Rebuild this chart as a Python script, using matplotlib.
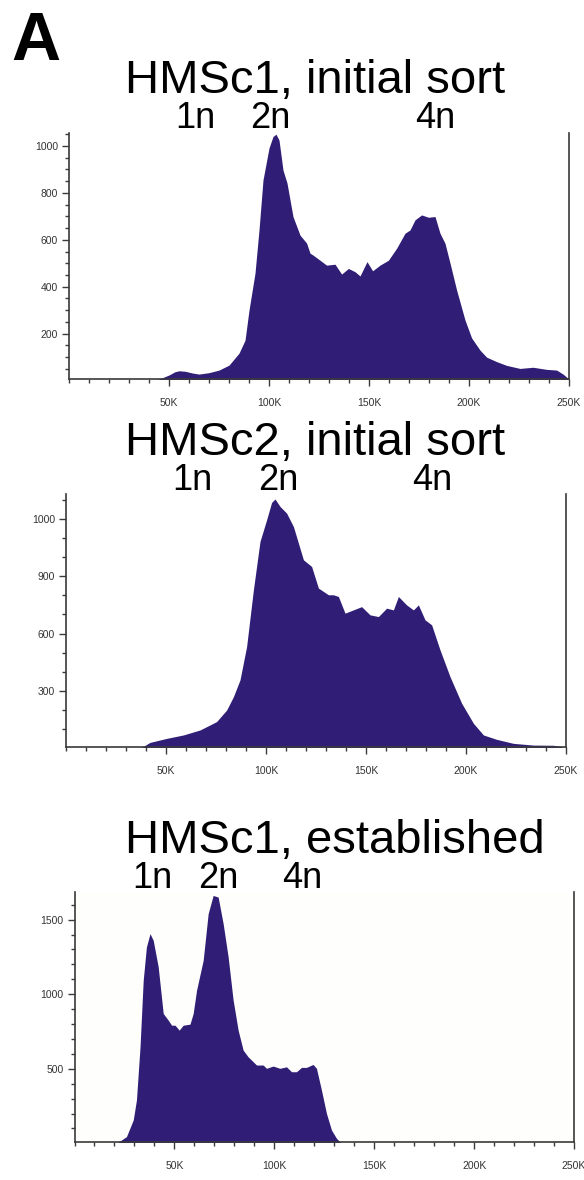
import numpy as np
import matplotlib
matplotlib.use('Agg')
import matplotlib.pyplot as plt
from matplotlib.ticker import MultipleLocator, FixedLocator

plt.rcParams['font.family'] = ['Liberation Sans', 'DejaVu Sans']

# --- data (DNA content in K, cell count) ---
titles = ['HMSc1, initial sort', 'HMSc2, initial sort', 'HMSc1, established']

hmsc1_init_x = [42, 46, 50, 53, 55, 58, 62, 65, 70, 75, 80, 85, 88, 90, 93, 95, 97, 100, 102, 103.5,
                105, 107, 109, 112, 115.5, 118.8, 120.5, 122, 125.5, 128.8, 133, 136.3, 139.7, 143,
                145.5, 149, 151.8, 155.5, 159.7, 163.8, 168, 170.5, 173, 176.3, 179.7, 183, 185.5,
                188, 190.5, 193.8, 198, 201.3, 205.5, 208.8, 213.8, 218.8, 225.5, 232, 238.8,
                243.8, 247, 249.5, 250]
hmsc1_init_y = [0, 10, 24, 38, 42, 40, 32, 28, 34, 45, 66, 117, 172, 300, 458, 642, 855, 991, 1040, 1050,
                1025, 897, 842, 699, 620, 586, 543, 535, 513, 492, 496, 454, 478, 464,
                446, 507, 468, 492, 513, 564, 628, 642, 685, 706, 696, 699, 628,
                585, 501, 386, 258, 182, 130, 100, 81, 65, 52, 57, 48,
                45, 28, 10, 0]

hmsc2_init_x = [37, 42, 50.3, 58.7, 67, 71, 75.3, 80.3, 83.7, 87, 90.3, 93.7, 97, 100.3, 102.8, 104.5,
                107, 110.3, 113.7, 118.7, 122.8, 126.2, 131.2, 133.7, 136.2, 139.5, 143.7, 147.8,
                152, 156.2, 160.3, 163.7, 166.2, 170.3, 173.7, 176.2, 179.5, 182.8, 187, 192,
                197.8, 203.7, 208.7, 215.3, 223.7, 233.7, 243.7, 248, 249]
hmsc2_init_y = [0, 31, 52, 70, 96, 117, 140, 200, 270, 358, 532, 829, 1082, 1195, 1286, 1304,
                1265, 1230, 1160, 986, 951, 838, 803, 803, 794, 707, 724, 741,
                698, 689, 733, 724, 794, 750, 724, 750, 672, 646, 515, 375,
                236, 131, 70, 47, 26, 17, 16, 8, 0]

hmsc1_est_x = [21, 26, 29.4, 31, 32.8, 34.4, 36, 37.8, 39.4, 41.9, 44.4, 46.9, 48.6, 50.3, 52.4, 54.4,
               57.8, 59.4, 61.1, 64.4, 66.9, 69.4, 71.9, 74.4, 76.9, 79.4, 81.9, 84.4, 86.9, 91.1,
               94.4, 96.1, 99.4, 102.8, 106.1, 108.6, 111.1, 113.6, 116.1, 119.4, 121.1, 123.6,
               126.1, 128.6, 131.1, 133.6]
hmsc1_est_y = [0, 45, 157, 290, 647, 1094, 1317, 1406, 1361, 1183, 871, 826, 792, 792, 759, 792,
               799, 871, 1027, 1227, 1540, 1662, 1651, 1473, 1250, 960, 759, 625, 580, 525,
               525, 503, 518, 503, 513, 480, 480, 509, 509, 529, 503, 357,
               201, 90, 34, 0]

ploidy = ['1n', '2n', '4n']
xticks = [50, 100, 150, 200, 250]
xticklabels = ['50K', '100K', '150K', '200K', '250K']

fill_col = '#301e76'
axis_col = '#3a3a3a'

W, H = 584, 1180
fig = plt.figure(figsize=(W / 100, H / 100), dpi=100)

# (left, top, right, bottom) in pixels
boxes = [(69, 133, 569, 379), (66, 494, 566, 747), (74.5, 892, 574, 1142)]
ylims = [(7, 1055), (7, 1330), (9, 1685)]
yticks = [[200, 400, 600, 800, 1000], [300, 600, 900, 1200], [500, 1000, 1500]]
yticklabels = [['200', '400', '600', '800', '1000'], ['300', '600', '900', '1000'],
               ['500', '1000', '1500']]
yminor = [50, 100, 100]
title_pos = [(315, 93), (315, 455), (335, 853)]
label_x = [[195, 270, 435], [192, 278, 432], [152, 218, 302]]
label_y = [128, 490, 888]

series = [(hmsc1_init_x, hmsc1_init_y), (hmsc2_init_x, hmsc2_init_y), (hmsc1_est_x, hmsc1_est_y)]

for i, (xs, ys) in enumerate(series):
    l, t, r, b = boxes[i]
    ax = fig.add_axes([l / W, 1 - b / H, (r - l) / W, (b - t) / H])
    if i == 2:
        ax.set_facecolor('#fefefc')
    ax.fill_between(xs, ys, 0, color=fill_col, lw=0)
    ax.set_xlim(0, 250)
    ax.set_ylim(*ylims[i])

    ax.spines['top'].set_visible(False)
    for s in ['left', 'bottom', 'right']:
        ax.spines[s].set_color(axis_col)
        ax.spines[s].set_linewidth(1.2)

    ax.xaxis.set_major_locator(FixedLocator(xticks))
    ax.set_xticklabels(xticklabels)
    ax.xaxis.set_minor_locator(MultipleLocator(10))
    ax.yaxis.set_major_locator(FixedLocator(yticks[i]))
    ax.set_yticklabels(yticklabels[i])
    ax.yaxis.set_minor_locator(MultipleLocator(yminor[i]))

    ax.tick_params(which='both', direction='out', colors=axis_col, labelsize=7.5, width=1)
    ax.tick_params(which='major', length=5, pad=3)
    ax.tick_params(which='minor', length=3)
    ax.tick_params(axis='y', labelcolor='#333333')
    ax.tick_params(axis='x', labelcolor='#333333', pad=9)

    tx, ty = title_pos[i]
    fig.text(tx / W, 1 - ty / H, titles[i], fontsize=34, ha='center', va='baseline')
    for lab, lx in zip(ploidy, label_x[i]):
        fig.text(lx / W, 1 - label_y[i] / H, lab, fontsize=26, ha='center', va='baseline')

fig.text(11 / W, 1 - 60 / H, 'A', fontsize=49, fontweight='bold', ha='left', va='baseline')

fig.savefig('out.png', dpi=100)
